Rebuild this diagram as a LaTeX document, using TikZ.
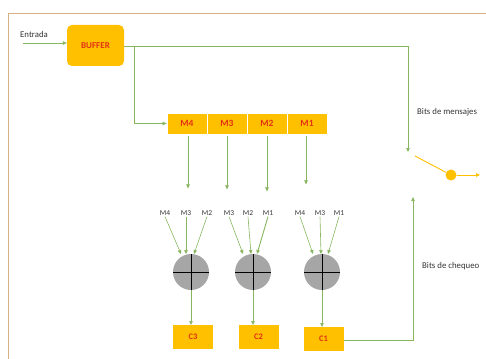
\documentclass[tikz,border=0pt]{standalone}
\usepackage{fontspec}
\setmainfont{Carlito}
\usetikzlibrary{arrows.meta}
\definecolor{boxfill}{RGB}{255,192,0}
\definecolor{boxtext}{RGB}{226,50,20}
\definecolor{wire}{RGB}{135,182,95}
\definecolor{frame}{RGB}{214,178,130}
\definecolor{xorfill}{RGB}{166,166,166}
\tikzset{
  wirel/.style={draw=wire, line width=0.6pt},
  arr/.style={wirel, -{Triangle[length=4pt,width=3.5pt]}},
  regbox/.style={fill=boxfill, draw=white, line width=0.8pt, minimum width=40pt, minimum height=21pt,
    inner sep=0pt, text=boxtext, font=\bfseries\fontsize{9.5}{10}\selectfont},
  chkbox/.style={fill=boxfill, draw=none, minimum width=40pt, minimum height=24pt,
    inner sep=0pt, text=boxtext, font=\bfseries\fontsize{8.5}{9}\selectfont},
  lbl/.style={font=\fontsize{7.5}{8}\selectfont, text=black!80, inner sep=1pt},
  side/.style={font=\fontsize{8.8}{10}\selectfont, text=black!80, inner sep=1pt},
  xorc/.style={circle, fill=xorfill, minimum size=36pt, inner sep=0pt, path picture={
      \draw[black, line width=0.6pt] (path picture bounding box.north) -- (path picture bounding box.south)
        (path picture bounding box.west) -- (path picture bounding box.east);}},
}
\begin{document}
\begin{tikzpicture}[x=1pt,y=-1pt]
\useasboundingbox (0,0) rectangle (486,358);
% outer frame
\draw[frame, line width=1pt] (500,14) -- (8,14) -- (8,370);

% input and buffer
\node[fill=boxfill, rounded corners=5pt, minimum width=57pt, minimum height=41pt, inner sep=0pt,
  text=boxtext, font=\bfseries\fontsize{9}{10}\selectfont] (buf) at (95.5,45.5) {BUFFER};
\node[side, anchor=west] (ent) at (19,34) {Entrada};
\coordinate (inp) at (23,43);
\draw[arr] (inp) -- (inp -| buf.west);

% message register
\node[regbox] (m4) at (187,123.5) {M4};
\node[regbox] (m3) at (227,123.5) {M3};
\node[regbox] (m2) at (267,123.5) {M2};
\node[regbox] (m1) at (307,123.5) {M1};

% buffer outputs
\coordinate (bo) at (124,46.5);
\coordinate (br) at (134.5,46.5);
\coordinate (sw) at (408,152);
\draw[wirel] (bo) -- (408,46.5);
\draw[arr] (408,46.5) -- (sw);
\draw[arr] (br) -- (134.5,123.5) -- (m4.west);

% register taps
\draw[arr] (m4.south) ++(1,2) -- ++(0,52);
\draw[arr] (m3.south) ++(0,2) -- ++(0,53);
\draw[arr] (m2.south) ++(0,2) -- ++(0,55);
\draw[arr] (m1.south) ++(-1,2) -- ++(0,48);

% parity adders
\node[xorc] (x3) at (191,272) {};
\node[xorc] (x2) at (253,272) {};
\node[xorc] (x1) at (322,272) {};

\node[lbl] (a4) at (165,213) {M4};
\node[lbl] (a3) at (186,213) {M3};
\node[lbl] (a2) at (207,213) {M2};
\node[lbl] (b3) at (229,213) {M3};
\node[lbl] (b2) at (248,213) {M2};
\node[lbl] (b1) at (268,213) {M1};
\node[lbl] (c4) at (300,213) {M4};
\node[lbl] (c3) at (320,213) {M3};
\node[lbl] (c1) at (339,213) {M1};

\draw[arr] (a4.south) -- (181,254);
\draw[arr] (a3.south) -- (186,254);
\draw[arr] (a2.south) -- (194,254);
\draw[arr] (b3.south) -- (243,254);
\draw[arr] (b2.south) -- (251,254);
\draw[arr, line width=0.9pt] (b1.south) -- (257,254);
\draw[arr] (c4.south) -- (313,254);
\draw[arr] (c3.south) -- (321,254);
\draw[arr] (c1.south) -- (328,254);

% check bits
\node[chkbox] (k3) at (193,337) {C3};
\node[chkbox] (k2) at (258.5,337) {C2};
\node[chkbox] (k1) at (323.5,339) {C1};

\draw[arr] (x3.south) -- (191,325);
\draw[arr] (x2.south) -- (253,325);
\draw[arr] (x1.south) -- (322,327);

\coordinate (ck) at (413,197);
\draw[arr] (k1.east |- 0,340) -- (413,340) -- (ck);

% output switch
\node[circle, fill=boxfill, minimum size=11pt, inner sep=0pt] (pt) at (451,175) {};
\coordinate (out) at (480,175);
\draw[boxfill, line width=0.9pt] (415,156) -- (pt);
\draw[boxfill, line width=0.9pt, -{Triangle[length=4pt,width=3.5pt]}] (pt.east) -- (out);

\node[side, anchor=west] (msg) at (416,112) {Bits de mensajes};
\node[side, anchor=west] (chk) at (421,266) {Bits de chequeo};
\end{tikzpicture}
\end{document}
